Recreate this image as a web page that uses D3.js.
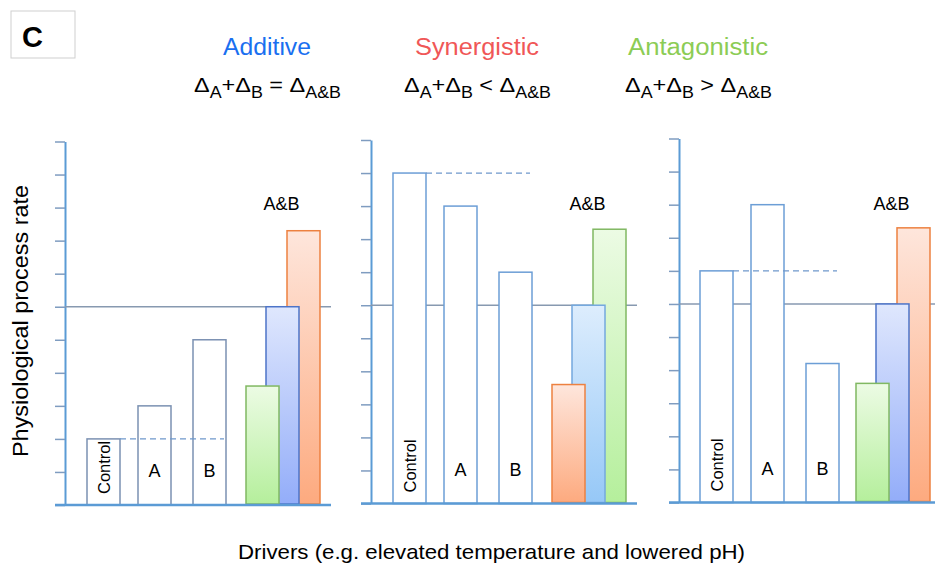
<!DOCTYPE html>
<html>
<head>
<meta charset="utf-8">
<script src="https://cdn.jsdelivr.net/npm/d3@7"></script>
<style>
  html, body { margin: 0; padding: 0; background: #fff; }
  svg { display: block; font-family: "Liberation Sans", Arial, sans-serif; }
</style>
</head>
<body>
<svg id="chart" width="935" height="567"></svg>
<script>
// ---------- data ----------
const panelNames   = ["Additive", "Synergistic", "Antagonistic"];
const relations    = ["=", "<", ">"];
const singleCats   = ["Control", "A", "B"];
const controlVals  = [2, 10, 7];
const aVals        = [3, 9, 9];
const bVals        = [5, 7, 4.2];
// A&B bars per panel: [left, middle (additive expectation), right]
const abLeftVals   = [3.6, 3.6, 3.6];
const abMidVals    = [6, 6, 6];
const abRightVals  = [8.3, 8.3, 8.3];
const abLeftKind   = ["green", "orange", "green"];
const abRightKind  = ["orange", "green", "orange"];
const yTickValues  = [0, 1, 2, 3, 4, 5, 6, 7, 8, 9, 10, 11];

// ---------- layout ----------
const titleColors = ["#1a6ff0", "#f05757", "#8ccc55"];
const panelLayout = [
  { axisX: 65,  base: 505,   top: 141.5, right: 331, titleX: 267, shift: 0,  abShift: 0,  titleW: 88 },
  { axisX: 371, base: 503.5, top: 140,   right: 637, titleX: 477, shift: 0,  abShift: 0,  titleW: 124 },
  { axisX: 679, base: 502.5, top: 138.5, right: 935, titleX: 698, shift: -1, abShift: -3, titleW: 140 }
];
// bar left offsets from the axis for Control, A, B, AB-left, AB-mid, AB-right
const barOffsets = [22, 73, 128, 181, 201, 222];
const barW = 33;

const svg = d3.select("#chart");
const defs = svg.append("defs");

function grad(id, c1, c2) {
  const g = defs.append("linearGradient").attr("id", id)
    .attr("x1", 0).attr("y1", 0).attr("x2", 0).attr("y2", 1);
  g.append("stop").attr("offset", "0%").attr("stop-color", c1);
  g.append("stop").attr("offset", "100%").attr("stop-color", c2);
}
grad("gGreen", "#ecfbe4", "#b5ef9c");
grad("gOrange", "#fee6dc", "#fdaa7f");
grad("gBlue", "#dfe7fd", "#93adf9");
grad("gSky", "#ddedfd", "#96c8f7");

const kindStyle = {
  green:  { fill: "url(#gGreen)",  stroke: "#80b862" },
  orange: { fill: "url(#gOrange)", stroke: "#ed8140" },
  blue:   { fill: "url(#gBlue)",   stroke: "#4d74c8" },
  sky:    { fill: "url(#gSky)",    stroke: "#74a8de" }
};

// Panel label box "C"
svg.append("rect").attr("x", 11).attr("y", 11).attr("width", 64).attr("height", 47)
  .attr("fill", "#fff").attr("stroke", "#cfcfcf").attr("stroke-width", 1);
svg.append("text").attr("x", 22).attr("y", 46.5)
  .attr("font-size", 29).attr("font-weight", "bold").attr("fill", "#000").text("C");

panelNames.forEach((name, i) => {
  const L = panelLayout[i];
  const y = d3.scaleLinear().domain([0, 11]).range([L.base, L.top]);
  const x = d3.scaleLinear().domain([0, 1]).range([L.axisX + L.shift, L.axisX + L.shift + 1]);
  const g = svg.append("g");

  // title
  svg.append("text").attr("x", L.titleX - L.titleW / 2).attr("y", 55)
    .attr("font-size", 23).attr("fill", titleColors[i])
    .attr("textLength", L.titleW).attr("lengthAdjust", "spacingAndGlyphs").text(name);

  // formula
  const f = svg.append("text").attr("x", L.titleX - 73).attr("y", 92)
    .attr("font-size", 21).attr("fill", "#000")
    .attr("textLength", 147).attr("lengthAdjust", "spacingAndGlyphs");
  f.append("tspan").text("\u0394");
  f.append("tspan").attr("font-size", 16).attr("dy", 6).text("A");
  f.append("tspan").attr("dy", -6).text("+\u0394");
  f.append("tspan").attr("font-size", 16).attr("dy", 6).text("B");
  f.append("tspan").attr("dy", -6).text(" " + relations[i] + " \u0394");
  f.append("tspan").attr("font-size", 16).attr("dy", 6).text("A&B");

  // y axis
  const axis = d3.axisLeft(y).tickValues(yTickValues).tickSize(10).tickSizeOuter(0).tickFormat("");
  const ag = g.append("g").attr("transform", `translate(${L.axisX},0)`).call(axis);
  ag.select(".domain").attr("stroke", "#5b9bd5").attr("stroke-width", 2);
  ag.selectAll(".tick line").attr("stroke", "#7f9cc0").attr("stroke-width", 1.5);

  // additive reference line
  g.append("line").attr("x1", L.axisX).attr("x2", L.right)
    .attr("y1", y(6)).attr("y2", y(6))
    .attr("stroke", "#8799b0").attr("stroke-width", 1.5);

  // single-driver bars
  const singles = [controlVals[i], aVals[i], bVals[i]];
  const outline = i === 0 ? "#7b91b2" : "#6c9ed6";
  singles.forEach((v, j) => {
    g.append("rect")
      .attr("x", x(barOffsets[j])).attr("y", y(v))
      .attr("width", barW).attr("height", y(0) - y(v))
      .attr("fill", "#fff").attr("stroke", outline).attr("stroke-width", 1.5);
  });

  // dashed line at control level
  g.append("line")
    .attr("x1", x(barOffsets[0] + barW)).attr("x2", x(barOffsets[2] + barW - 2))
    .attr("y1", y(controlVals[i])).attr("y2", y(controlVals[i]))
    .attr("stroke", "#6f98cc").attr("stroke-width", 1.3).attr("stroke-dasharray", "6,4");

  // A&B bars: right drawn first, then middle, then left on top
  const abBars = [
    { v: abRightVals[i], k: abRightKind[i], o: barOffsets[5] },
    { v: abMidVals[i],   k: i === 1 ? "sky" : "blue", o: barOffsets[4] },
    { v: abLeftVals[i],  k: abLeftKind[i], o: barOffsets[3] }
  ];
  abBars.forEach(b => {
    const st = kindStyle[b.k];
    g.append("rect")
      .attr("x", x(b.o + L.abShift)).attr("y", y(b.v))
      .attr("width", barW).attr("height", y(0) - y(b.v) - 1)
      .attr("fill", st.fill).attr("stroke", st.stroke).attr("stroke-width", 1.5);
  });

  // baseline
  g.append("line").attr("x1", L.axisX - 10).attr("x2", L.right)
    .attr("y1", y(0)).attr("y2", y(0))
    .attr("stroke", "#5b9bd5").attr("stroke-width", 2.5);

  // labels
  const cx = x(barOffsets[0] + barW / 2);
  g.append("text").attr("transform", `translate(${cx + 6},${y(0) - 11}) rotate(-90)`)
    .attr("font-size", 16.5).attr("fill", "#000").text(singleCats[0]);
  [1, 2].forEach(j => {
    g.append("text").attr("x", x(barOffsets[j] + barW / 2)).attr("y", y(0) - 28)
      .attr("text-anchor", "middle").attr("font-size", 18).attr("fill", "#000").text(singleCats[j]);
  });
  g.append("text").attr("x", x(barOffsets[4] + L.abShift + barW / 2 - 1)).attr("y", 210)
    .attr("text-anchor", "middle").attr("font-size", 18).attr("fill", "#000").text("A&B");
});

// axis titles
svg.append("text").attr("transform", "translate(28,457) rotate(-90)")
  .attr("font-size", 22).attr("fill", "#000")
  .attr("textLength", 272).attr("lengthAdjust", "spacingAndGlyphs")
  .text("Physiological process rate");
svg.append("text").attr("x", 238).attr("y", 559)
  .attr("font-size", 21).attr("fill", "#000")
  .attr("textLength", 507).attr("lengthAdjust", "spacingAndGlyphs")
  .text("Drivers (e.g. elevated temperature and lowered pH)");
</script>
</body>
</html>
